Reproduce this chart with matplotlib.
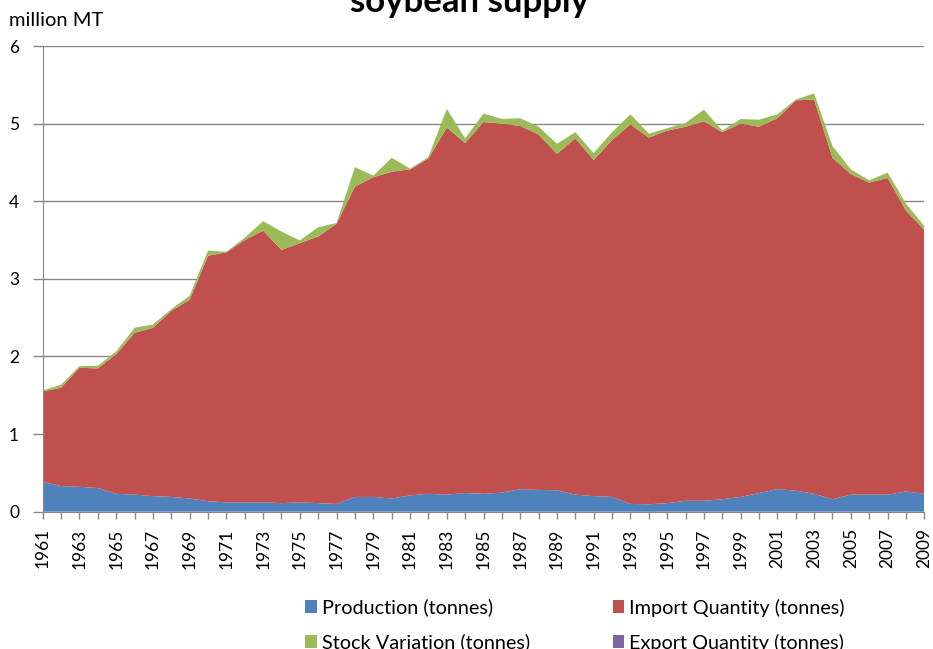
import matplotlib.pyplot as plt
from matplotlib.patches import Patch

years = list(range(1961, 2010))

# million MT
production = [0.384, 0.33, 0.32, 0.305, 0.23, 0.22, 0.20, 0.19, 0.17, 0.135,
              0.12, 0.12, 0.12, 0.11, 0.12, 0.11, 0.10, 0.19, 0.19, 0.17,
              0.21, 0.23, 0.22, 0.24, 0.23, 0.245, 0.29, 0.28, 0.275, 0.22,
              0.20, 0.19, 0.10, 0.095, 0.11, 0.14, 0.14, 0.16, 0.19, 0.24,
              0.29, 0.27, 0.23, 0.16, 0.22, 0.22, 0.22, 0.26, 0.23]
imports = [1.165, 1.267, 1.534, 1.541, 1.799, 2.084, 2.169, 2.397, 2.561, 3.163,
           3.222, 3.38, 3.501, 3.263, 3.34, 3.437, 3.61, 4.00, 4.12, 4.21,
           4.20, 4.32, 4.73, 4.51, 4.79, 4.755, 4.68, 4.58, 4.335, 4.59,
           4.33, 4.60, 4.89, 4.725, 4.80, 4.82, 4.89, 4.73, 4.81, 4.72,
           4.78, 5.03, 5.08, 4.40, 4.13, 4.02, 4.08, 3.62, 3.40]
stock = [0.013, 0.039, 0.022, 0.034, 0.035, 0.065, 0.043, 0.022, 0.052, 0.066,
         0.008, 0.03, 0.123, 0.236, 0.035, 0.118, 0.01, 0.25, 0.02, 0.18,
         0.01, 0.02, 0.24, 0.06, 0.11, 0.06, 0.10, 0.10, 0.13, 0.08,
         0.09, 0.10, 0.13, 0.05, 0.03, 0.05, 0.15, 0.02, 0.06, 0.09,
         0.05, 0.01, 0.08, 0.15, 0.06, 0.03, 0.07, 0.09, 0.05]
exports = [0.0] * len(years)  # too small to see on the chart

labels = ['Production (tonnes)', 'Import Quantity (tonnes)',
          'Stock Variation (tonnes)', 'Export Quantity (tonnes)']
colors = ['#4F81BD', '#C0504D', '#9BBB59', '#8064A2']

plt.rcParams['font.family'] = ['Lato', 'DejaVu Sans']
grid_col = '#878787'

fig = plt.figure(figsize=(9.33, 6.49), dpi=100)
ax = fig.add_axes([0.0458, 0.2116, 0.9449, 0.7175])

ax.stackplot(years, production, imports, stock, exports, colors=colors,
             linewidth=0)

ax.set_xlim(years[0], years[-1])
ax.set_ylim(0, 6)
ax.set_yticks(range(0, 7))
ax.set_xticks(years)
ax.set_xticklabels([str(y) if (y - 1961) % 2 == 0 else '' for y in years],
                   rotation=90)
ax.tick_params(axis='both', labelsize=12.5, colors=grid_col, labelcolor='black',
               length=5, width=1)
ax.tick_params(axis='x', pad=7)
ax.tick_params(axis='y', length=7, pad=10)

# gridlines sit behind the areas, like the Excel original
ax.yaxis.grid(True, color=grid_col, linewidth=1)
ax.set_axisbelow(True)
for side in ['top', 'right']:
    ax.spines[side].set_visible(False)
ax.spines['left'].set_color(grid_col)
ax.spines['bottom'].set_color(grid_col)

fig.text(0.010, 0.9595, 'million MT', fontsize=14.5, va='baseline')
fig.text(0.5035, 0.9815, 'soybean supply', fontsize=25, fontweight='bold',
         ha='center', va='baseline')

# two single-column legends so the columns land where Excel put them
handles = [Patch(facecolor=c) for c in colors]
leg_kw = dict(loc='upper left', frameon=False, fontsize=14.3,
              handlelength=0.6, handleheight=0.6, handletextpad=0.25,
              labelspacing=0.85, borderpad=0, borderaxespad=0)
fig.legend([handles[0], handles[2]], [labels[0], labels[2]],
           bbox_to_anchor=(0.3269, 0.0775), **leg_kw)
fig.legend([handles[1], handles[3]], [labels[1], labels[3]],
           bbox_to_anchor=(0.6565, 0.0775), **leg_kw)

plt.savefig('out.png', dpi=100)
